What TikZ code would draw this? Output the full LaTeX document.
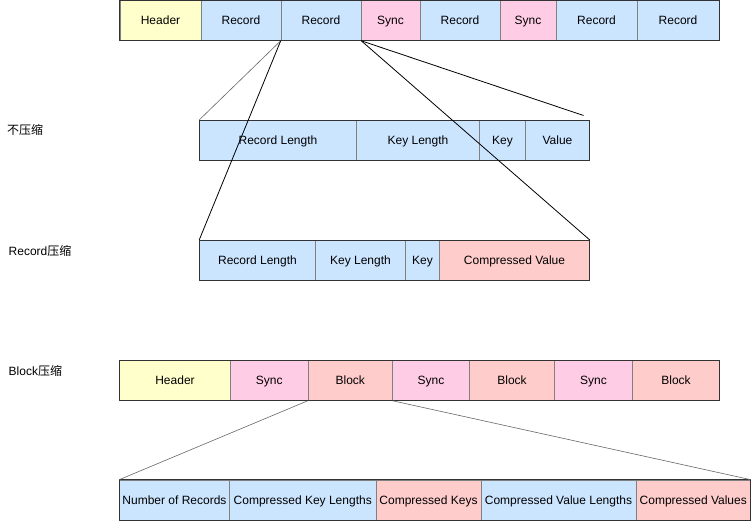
\documentclass[tikz,border=0pt]{standalone}
\usepackage{fontspec}
\setmainfont{Liberation Sans}
\newfontfamily\cjk{Noto Sans CJK SC}
\definecolor{cyel}{HTML}{FFFFCC}
\definecolor{cblue}{HTML}{CCE5FF}
\definecolor{cpink}{HTML}{FFCCE6}
\definecolor{cred}{HTML}{FFCCCC}
\definecolor{divgray}{HTML}{808080}
\definecolor{framegray}{HTML}{333333}
\newcommand\mkcell[6]{%
  \pgfmathsetmacro\cx{(#2+#3)/2}%
  \pgfmathsetmacro\cw{#3-#2}%
  \pgfmathsetmacro\cy{#4+20}%
  \node[cell,fill=#5,minimum width=\cw pt] (#1) at (\cx,\cy) {#6};}
\tikzset{
  cell/.style={draw=divgray,line width=0.6pt,inner sep=0pt,minimum height=40pt,text height=8.6pt,text depth=0pt,font=\fontsize{12}{14}\selectfont},
  frame/.style={draw=framegray,line width=0.9pt},
  zoomline/.style={draw=black,line width=0.8pt},
  thinline/.style={draw=black!60,line width=0.6pt},
  rowlabel/.style={anchor=west,inner sep=0pt,font=\fontsize{12}{14}\selectfont}
}
\begin{document}
\begin{tikzpicture}[x=1pt,y=-1pt]
\useasboundingbox (0,0) rectangle (752,521);
% Row 1
\mkcell{a1}{120}{201}{0.5}{cyel}{Header}
\mkcell{a2}{201}{281}{0.5}{cblue}{Record}
\mkcell{a3}{281}{361}{0.5}{cblue}{Record}
\mkcell{a4}{361}{420}{0.5}{cpink}{Sync}
\mkcell{a5}{420}{500}{0.5}{cblue}{Record}
\mkcell{a6}{500}{556}{0.5}{cpink}{Sync}
\mkcell{a7}{556}{637}{0.5}{cblue}{Record}
\mkcell{a8}{637}{719}{0.5}{cblue}{Record}
\draw[frame] (a1.north west) rectangle (a8.south east);
% Row 2
\mkcell{b1}{199.5}{356.5}{120.3}{cblue}{Record Length}
\mkcell{b2}{356.5}{479.5}{120.3}{cblue}{Key Length}
\mkcell{b3}{479.5}{525.5}{120.3}{cblue}{Key}
\mkcell{b4}{525.5}{589.5}{120.3}{cblue}{Value}
\draw[frame] (b1.north west) rectangle (b4.south east);
% Row 3
\mkcell{c1}{199.5}{315.5}{240.3}{cblue}{Record Length}
\mkcell{c2}{315.5}{405.5}{240.3}{cblue}{Key Length}
\mkcell{c3}{405.5}{439.5}{240.3}{cblue}{Key}
\mkcell{c4}{439.5}{589.5}{240.3}{cred}{Compressed Value}
\draw[frame] (c1.north west) rectangle (c4.south east);
% Row 4
\mkcell{d1}{119.5}{230.5}{360.5}{cyel}{Header}
\mkcell{d2}{230.5}{308}{360.5}{cpink}{Sync}
\mkcell{d3}{308}{392.5}{360.5}{cred}{Block}
\mkcell{d4}{392.5}{469.5}{360.5}{cpink}{Sync}
\mkcell{d5}{469.5}{554.5}{360.5}{cred}{Block}
\mkcell{d6}{554.5}{632.5}{360.5}{cpink}{Sync}
\mkcell{d7}{632.5}{719.5}{360.5}{cred}{Block}
\draw[frame] (d1.north west) rectangle (d7.south east);
% Row 5
\mkcell{e1}{119.5}{229.5}{480}{cblue}{Number of Records}
\mkcell{e2}{229.5}{376}{480}{cblue}{Compressed Key Lengths}
\mkcell{e3}{376}{481}{480}{cred}{Compressed Keys}
\mkcell{e4}{481}{636}{480}{cblue}{Compressed Value Lengths}
\mkcell{e5}{636}{750.5}{480}{cred}{Compressed Values}
\draw[frame] (e1.north west) rectangle (e5.south east);
% connectors
\coordinate (vend) at (583.5,115.5);
\draw[thinline] (a3.south west) -- (b1.north west);
\draw[zoomline] (a3.south east) -- (vend);
\draw[zoomline] (a3.south west) -- (c1.north west);
\draw[zoomline] (a3.south east) -- (c4.north east);
\draw[thinline] (d3.south west) -- (e1.north west);
\draw[thinline] (d3.south east) -- (e5.north east);
% labels
\node[rowlabel] (l1) at (7,130) {\cjk 不压缩};
\node[rowlabel] (l2) at (8.5,251) {Record{\cjk 压缩}};
\node[rowlabel] (l3) at (8.5,370.5) {Block{\cjk 压缩}};
\end{tikzpicture}
\end{document}
